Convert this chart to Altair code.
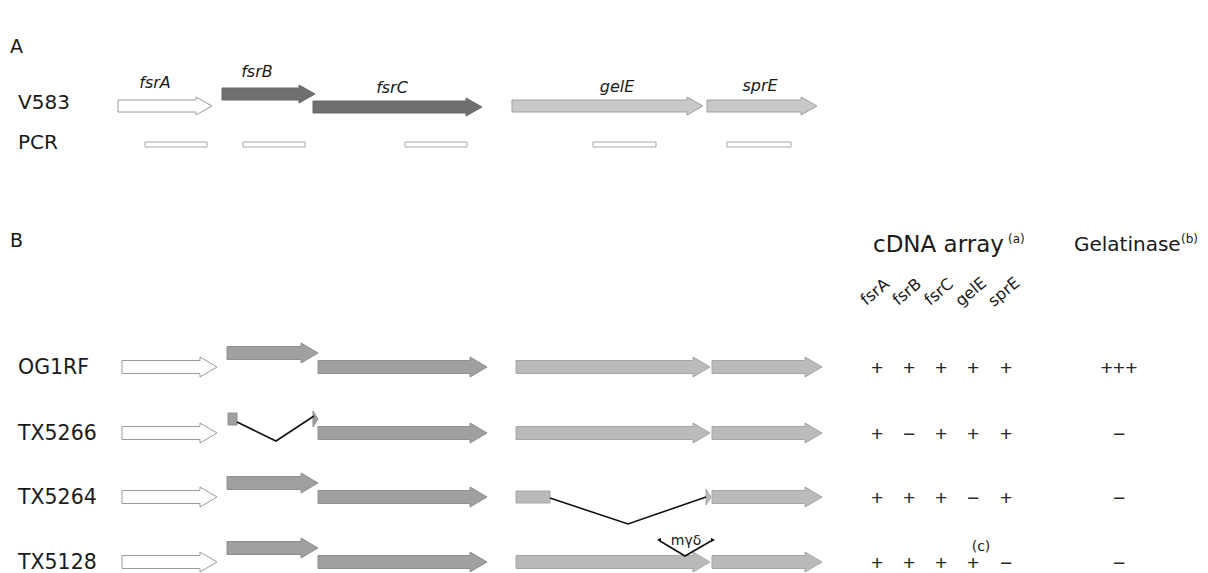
import altair as alt
import pandas as pd

# ---------------- data ----------------
genes = ["fsrA", "fsrB", "fsrC", "gelE", "sprE"]

# Panel A (V583) gene map
a_start = [118, 222, 313, 512, 707]
a_end = [212, 315, 482, 703, 817]
a_center = [106, 94, 107, 106, 106]
a_fill = ["#ffffff", "#707070", "#707070", "#c8c8c8", "#c8c8c8"]
a_stroke = ["#9c9c9c", "#666666", "#666666", "#a0a0a0", "#a0a0a0"]
a_label_x = [155, 257, 392, 617, 760]
a_label_y = [83, 72, 88, 87, 86]

# PCR products
pcr_start = [145, 243, 405, 593, 727]
pcr_end = [207, 305, 467, 656, 791]
pcr_top = 142
pcr_bottom = 147

# Panel B strains
strains = ["OG1RF", "TX5266", "TX5264", "TX5128"]
row_y = [367, 433, 497, 562]
b_start = [122, 227, 318, 516, 712]
b_end = [217, 318, 487, 710, 822]
b_offset = [0, -14, 0, 0, 0]
b_fill = ["#ffffff", "#a0a0a0", "#a0a0a0", "#bababa", "#bababa"]
b_stroke = ["#9c9c9c", "#8f8f8f", "#8f8f8f", "#a6a6a6", "#a6a6a6"]
# gene deleted in each strain (index into genes, or None)
deleted = [None, 1, 3, None]
# remnant fragments of deleted genes
remnant_strain = [1, 2]
remnant_start = [228, 516]
remnant_end = [237, 550]
remnant_head_start = [313, 706]
remnant_head_end = [318, 711]
# deletion V lines
del_strain = [1, 2]
del_x = [[237, 276, 314], [550, 628, 706]]
del_y = [[422, 441, 416], [498, 524, 497]]
# insertion (mγδ) in TX5128 gelE
ins_x = [660, 685, 711]
ins_y = [541, 556, 541]

# results
cdna = [["+", "+", "+", "+", "+"],
        ["+", "−", "+", "+", "+"],
        ["+", "+", "+", "−", "+"],
        ["+", "+", "+", "+", "−"]]
gelatinase = ["+++", "−", "−", "−"]
cdna_col_x = [877, 909, 941, 973, 1006]
gel_col_x = 1119

# ---------------- build tables ----------------
X = alt.Scale(domain=[8, 1200])
Y = alt.Scale(domain=[573, 8])


def arrow_points(aid, x0, x1, yc, bh, hh, hl, fill, stroke):
    pts = []
    xh = x1 - hl
    if xh > x0:
        pts.append((x0, yc - bh, yc + bh))
        pts.append((xh, yc - bh, yc + bh))
        pts.append((xh + 0.01, yc - hh, yc + hh))
    else:
        pts.append((x0, yc - hh, yc + hh))
    pts.append((x1, yc, yc))
    return [dict(id=aid, x=p[0], y=p[1], y2=p[2], fill=fill, stroke=stroke) for p in pts]


rows = []
for i, g in enumerate(genes):
    rows += arrow_points(f"A{i}", a_start[i], a_end[i], a_center[i], 6, 9, 16, a_fill[i], a_stroke[i])
for s, yc in enumerate(row_y):
    for i, g in enumerate(genes):
        if deleted[s] == i:
            continue
        rows += arrow_points(f"B{s}_{i}", b_start[i], b_end[i], yc + b_offset[i], 6.5, 10, 17,
                             b_fill[i], b_stroke[i])
rem_rects = []
for k, s in enumerate(remnant_strain):
    gi = deleted[s]
    yc = row_y[s] + b_offset[gi]
    rows += arrow_points(f"R{k}", remnant_head_start[k], remnant_head_end[k], yc, 6, 8, 5,
                         b_fill[gi], b_stroke[gi])
    rem_rects.append(dict(x=remnant_start[k], x2=remnant_end[k], y=yc - 6, y2=yc + 6,
                          fill=b_fill[gi], stroke=b_stroke[gi]))
arrows_df = pd.DataFrame(rows)
rem_df = pd.DataFrame(rem_rects)

pcr_df = pd.DataFrame(dict(x=pcr_start, x2=pcr_end, y=[pcr_top] * 5, y2=[pcr_bottom] * 5))

line_rows = []
for k in range(len(del_strain)):
    for j in range(3):
        line_rows.append(dict(id=f"D{k}", o=j, x=del_x[k][j], y=del_y[k][j]))
for j in range(3):
    line_rows.append(dict(id="I", o=j, x=ins_x[j], y=ins_y[j]))
lines_df = pd.DataFrame(line_rows)

heads_df = pd.DataFrame(dict(x=[ins_x[0] - 1, ins_x[2] + 2], y=[ins_y[0] - 1, ins_y[2] - 1],
                             shape=["triangle-left", "triangle-right"]))

FONT = "DejaVu Sans"
SYMFONT = "Liberation Sans"

# ---------------- layers ----------------
arrows = alt.Chart(arrows_df).mark_area(strokeWidth=1, interpolate="linear").encode(
    x=alt.X("x:Q", scale=X, axis=None),
    y=alt.Y("y:Q", scale=Y, axis=None),
    y2="y2:Q",
    fill=alt.Fill("fill:N", scale=None),
    stroke=alt.Stroke("stroke:N", scale=None),
    detail="id:N",
)

rems = alt.Chart(rem_df).mark_rect(strokeWidth=1).encode(
    x=alt.X("x:Q", scale=X, axis=None), x2="x2:Q",
    y=alt.Y("y:Q", scale=Y, axis=None), y2="y2:Q",
    fill=alt.Fill("fill:N", scale=None),
    stroke=alt.Stroke("stroke:N", scale=None),
)

pcr = alt.Chart(pcr_df).mark_rect(fill="#ffffff", stroke="#a8a8a8", strokeWidth=1).encode(
    x=alt.X("x:Q", scale=X, axis=None), x2="x2:Q",
    y=alt.Y("y:Q", scale=Y, axis=None), y2="y2:Q",
)

vlines = alt.Chart(lines_df).mark_line(color="#111111", strokeWidth=1.6).encode(
    x=alt.X("x:Q", scale=X, axis=None),
    y=alt.Y("y:Q", scale=Y, axis=None),
    detail="id:N",
    order="o:Q",
)

heads = alt.Chart(heads_df).mark_point(filled=True, color="#111111", size=22, opacity=1).encode(
    x=alt.X("x:Q", scale=X, axis=None),
    y=alt.Y("y:Q", scale=Y, axis=None),
    shape=alt.Shape("shape:N", scale=None),
)


def text_layer(df, size, style="normal", align="left", angle=0, color="#1a1a1a",
               baseline="middle", font=FONT):
    return alt.Chart(df).mark_text(
        font=font, fontSize=size, fontStyle=style, align=align, baseline=baseline,
        angle=angle, color=color,
    ).encode(
        x=alt.X("x:Q", scale=X, axis=None),
        y=alt.Y("y:Q", scale=Y, axis=None),
        text="t:N",
    )


panel_df = pd.DataFrame(dict(x=[10, 10], y=[47, 241], t=["A", "B"]))
rowlab_df = pd.DataFrame(dict(x=[18, 18] + [18] * 4,
                              y=[103, 143] + [y + 1 for y in row_y],
                              t=["V583", "PCR"] + strains))
glab_df = pd.DataFrame(dict(x=a_label_x, y=a_label_y, t=genes))
head_df = pd.DataFrame(dict(x=[873, 1074], y=[245, 245], t=["cDNA array", "Gelatinase"]))
sup_df = pd.DataFrame(dict(x=[1008, 1181], y=[239, 239], t=["(a)", "(b)"]))
rot_df = pd.DataFrame(dict(x=[c - 2 for c in cdna_col_x], y=[292] * 5, t=genes))

sym_rows = []
for s, yc in enumerate(row_y):
    for i in range(5):
        sym_rows.append(dict(x=cdna_col_x[i], y=yc + 2, t=cdna[s][i]))
    sym_rows.append(dict(x=gel_col_x, y=yc + 2, t=gelatinase[s]))
sym_df = pd.DataFrame(sym_rows)

note_df = pd.DataFrame(dict(x=[981], y=[547], t=["(c)"]))
ins_df = pd.DataFrame(dict(x=[686], y=[541], t=["mγδ"]))

head_cdna = text_layer(head_df.iloc[[0]], 23, align="left")
head_gel = text_layer(head_df.iloc[[1]], 20, align="left")

chart = alt.layer(
    pcr, arrows, rems, vlines, heads,
    text_layer(panel_df, 19),
    text_layer(rowlab_df.iloc[:2], 20),
    text_layer(rowlab_df.iloc[2:], 20.5),
    text_layer(glab_df, 16, style="italic", align="center"),
    head_cdna, head_gel,
    text_layer(sup_df, 12),
    text_layer(rot_df, 16, align="center", angle=320),
    text_layer(sym_df, 21, align="center", font=SYMFONT, color="#2a2a2a"),
    text_layer(note_df, 14, align="center"),
    text_layer(ins_df, 14, align="center"),
).properties(
    width=1192, height=565, padding=0, autosize="none",
).configure_view(stroke=None)

chart.save("out.html", embed_options={"renderer": "svg", "actions": False})
